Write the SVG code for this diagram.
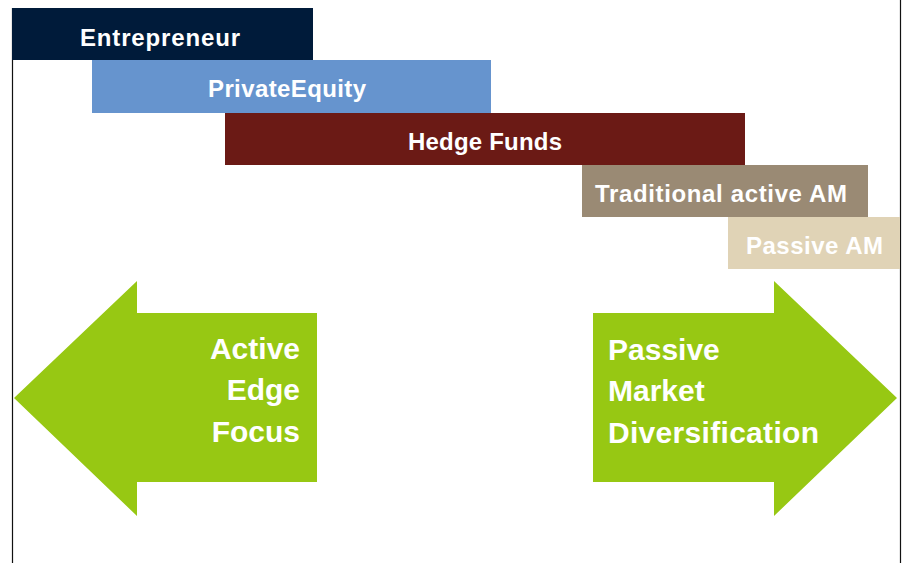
<svg xmlns="http://www.w3.org/2000/svg" width="903" height="571" viewBox="0 0 903 571">
<style>
.lbl{font-family:"Liberation Sans",Arial,sans-serif;font-weight:bold;fill:#fff;font-size:24px}
.big{font-family:"Liberation Sans",Arial,sans-serif;font-weight:bold;fill:#fff;font-size:30px}
.arrow{fill:#97C813}
.frame{stroke:#111;stroke-width:1.2;fill:none}
</style>
<rect width="903" height="571" fill="#fff"/>
<g id="frame">
<line class="frame" x1="12.5" y1="8" x2="12.5" y2="563"/>
<line class="frame" x1="900.5" y1="0" x2="900.5" y2="563"/>
</g>
<g id="entrepreneur">
<rect x="12" y="8" width="301" height="52" fill="#001B3A"/>
<text class="lbl" x="80" y="46" textLength="160">Entrepreneur</text>
</g>
<g id="private-equity">
<rect x="92" y="60" width="399" height="53" fill="#6694CE"/>
<text class="lbl" x="208" y="97" textLength="158">PrivateEquity</text>
</g>
<g id="hedge-funds">
<rect x="225" y="113" width="520" height="52" fill="#6B1A15"/>
<text class="lbl" x="408" y="150" textLength="154">Hedge Funds</text>
</g>
<g id="traditional-active-am">
<rect x="582" y="165" width="286" height="52" fill="#9A8A74"/>
<text class="lbl" x="595" y="202" textLength="252">Traditional active AM</text>
</g>
<g id="passive-am">
<rect x="728" y="217" width="172" height="52" fill="#E0D3B6"/>
<text class="lbl" x="746" y="254" textLength="137">Passive AM</text>
</g>
<g id="active-arrow">
<polygon class="arrow" points="14,398 137,281 137,313 317,313 317,482 137,482 137,516"/>
<text class="big" text-anchor="end" x="300" y="359">Active</text>
<text class="big" text-anchor="end" x="300" y="400">Edge</text>
<text class="big" text-anchor="end" x="300" y="442">Focus</text>
</g>
<g id="passive-arrow">
<polygon class="arrow" points="593,313 774,313 774,281 897,398 774,516 774,482 593,482"/>
<text class="big" x="608" y="360">Passive</text>
<text class="big" x="608" y="401">Market</text>
<text class="big" x="608" y="443" textLength="211">Diversification</text>
</g>
</svg>
